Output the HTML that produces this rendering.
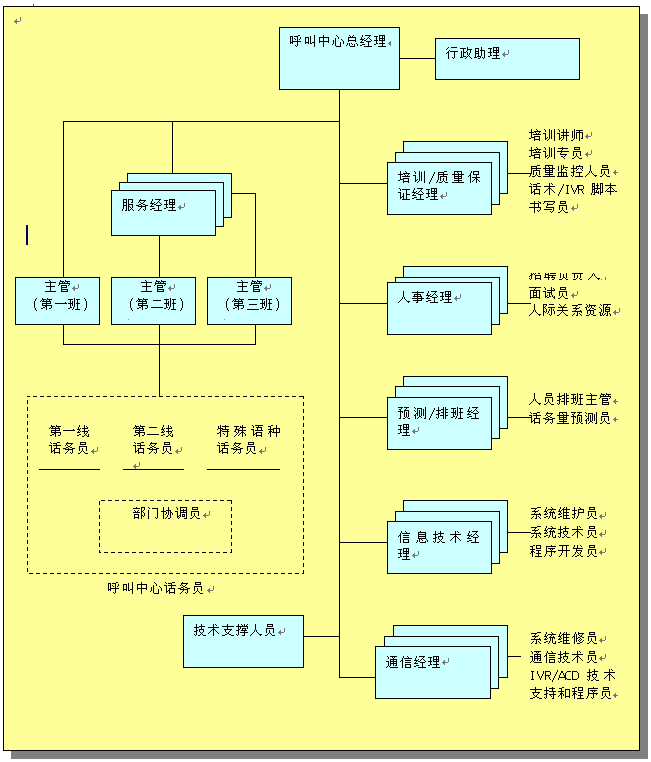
<!DOCTYPE html>
<html><head><meta charset="utf-8"><title>呼叫中心组织结构图</title>
<style>
html,body{margin:0;padding:0;background:#fff;width:651px;height:762px;overflow:hidden;font-family:"Liberation Sans",sans-serif;}
svg{position:absolute;left:0;top:0;}
#t span{position:absolute;font-size:13px;line-height:14px;color:transparent;white-space:nowrap;}
</style></head><body>
<div id="t"><span style="left:290px;top:33px">呼叫中心总经理</span><span style="left:446px;top:45px">行政助理</span><span style="left:122px;top:197px">服务经理</span><span style="left:44px;top:278px">主管</span><span style="left:33px;top:296px">（第一班）</span><span style="left:140px;top:278px">主管</span><span style="left:129px;top:296px">（第二班）</span><span style="left:236px;top:278px">主管</span><span style="left:225px;top:296px">（第三班）</span><span style="left:49px;top:423px">第一线</span><span style="left:49px;top:440px">话务员</span><span style="left:133px;top:423px">第二线</span><span style="left:133px;top:440px">话务员</span><span style="left:217px;top:423px">特殊语种</span><span style="left:217px;top:440px">话务员</span><span style="left:133px;top:505px">部门协调员</span><span style="left:108px;top:580px">呼叫中心话务员</span><span style="left:194px;top:622px">技术支撑人员</span><span style="left:398px;top:169px">培训/质量保</span><span style="left:398px;top:186px">证经理</span><span style="left:529px;top:127px">培训讲师</span><span style="left:529px;top:145px">培训专员</span><span style="left:529px;top:163px">质量监控人员</span><span style="left:529px;top:181px">话术/IVR 脚本</span><span style="left:529px;top:199px">书写员</span><span style="left:398px;top:289px">人事经理</span><span style="left:529px;top:266px">招聘负责人</span><span style="left:529px;top:285px">面试员</span><span style="left:529px;top:302px">人际关系资源</span><span style="left:398px;top:405px">预测/排班经</span><span style="left:398px;top:422px">理</span><span style="left:529px;top:391px">人员排班主管</span><span style="left:529px;top:410px">话务量预测员</span><span style="left:398px;top:529px">信息技术经</span><span style="left:398px;top:546px">理</span><span style="left:530px;top:505px">系统维护员</span><span style="left:530px;top:524px">系统技术员</span><span style="left:530px;top:543px">程序开发员</span><span style="left:386px;top:654px">通信经理</span><span style="left:530px;top:630px">系统维修员</span><span style="left:530px;top:649px">通信技术员</span><span style="left:530px;top:667px">IVR/ACD 技术</span><span style="left:530px;top:685px">支持和程序员</span></div>
<svg width="651" height="762" viewBox="0 0 651 762" shape-rendering="crispEdges"><defs><path id="g547c" d="M8 2h2v1h-2zM0 3h3v1h-3zM4 3h4v1h-4zM4 5h1v1h-1zM10 4h1v2h-1zM5 6h1v1h-1zM9 6h1v1h-1zM2 4h1v4h-1zM7 4h1v4h-1zM0 4h1v5h-1zM2 8h9v1h-9zM0 9h3v1h-3zM0 10h1v1h-1zM2 10h1v1h-1zM5 12h1v1h-1zM7 9h1v4h-1zM6 13h1v1h-1z"/><path id="g53eb" d="M1 4h4v1h-4zM1 5h1v4h-1zM4 5h1v4h-1zM10 2h1v7h-1zM1 9h4v1h-4zM6 3h1v7h-1zM8 9h3v1h-3zM1 10h1v1h-1zM4 10h1v1h-1zM6 10h2v1h-2zM10 10h1v4h-1z"/><path id="g4e2d" d="M5 2h1v2h-1zM1 4h10v1h-10zM1 5h1v3h-1zM5 5h1v3h-1zM10 5h1v3h-1zM1 8h10v1h-10zM1 9h1v1h-1zM10 9h1v1h-1zM5 9h1v5h-1z"/><path id="g5fc3" d="M4 2h1v1h-1zM5 3h1v1h-1zM6 4h1v2h-1zM9 6h1v1h-1zM10 7h1v1h-1zM1 7h1v4h-1zM11 8h1v3h-1zM0 11h1v1h-1zM3 5h1v8h-1zM8 9h1v4h-1zM4 13h5v1h-5z"/><path id="g603b" d="M3 2h1v1h-1zM7 2h1v1h-1zM4 3h1v1h-1zM6 3h1v1h-1zM2 4h8v1h-8zM2 5h1v2h-1zM9 5h1v2h-1zM2 7h8v1h-8zM2 8h1v1h-1zM9 8h1v1h-1zM5 10h1v1h-1zM10 10h1v1h-1zM1 10h1v2h-1zM6 11h1v1h-1zM0 12h1v1h-1zM3 10h1v3h-1zM8 11h1v2h-1zM11 11h1v2h-1zM4 13h5v1h-5z"/><path id="g7ecf" d="M5 2h6v1h-6zM2 2h1v2h-1zM9 3h1v1h-1zM8 4h1v1h-1zM1 4h1v2h-1zM4 5h1v1h-1zM7 5h1v1h-1zM9 5h1v1h-1zM0 6h4v1h-4zM6 6h1v1h-1zM10 6h1v1h-1zM2 7h1v1h-1zM4 7h2v1h-2zM11 7h1v1h-1zM1 8h1v1h-1zM6 8h5v1h-5zM0 9h4v1h-4zM2 11h3v1h-3zM0 12h2v1h-2zM8 9h1v4h-1zM4 13h8v1h-8z"/><path id="g7406" d="M5 2h6v1h-6zM0 3h4v1h-4zM5 3h1v2h-1zM8 3h1v2h-1zM10 3h1v2h-1zM5 5h6v1h-6zM2 4h1v3h-1zM5 6h1v1h-1zM8 6h1v1h-1zM10 6h1v1h-1zM0 7h4v1h-4zM5 7h6v1h-6zM2 8h1v2h-1zM8 8h1v2h-1zM2 10h2v1h-2zM5 10h6v1h-6zM0 11h2v1h-2zM8 11h1v2h-1zM4 13h8v1h-8z"/><path id="g884c" d="M2 2h1v1h-1zM5 2h6v1h-6zM1 3h1v1h-1zM0 4h1v1h-1zM3 5h1v1h-1zM2 6h1v1h-1zM4 6h8v1h-8zM1 7h2v1h-2zM0 8h1v1h-1zM6 12h1v1h-1zM8 7h1v6h-1zM2 8h1v6h-1zM7 13h1v1h-1z"/><path id="g653f" d="M0 3h6v1h-6zM7 2h1v2h-1zM7 4h5v1h-5zM7 5h1v1h-1zM3 4h1v3h-1zM6 6h1v1h-1zM3 7h3v1h-3zM10 5h1v3h-1zM7 7h1v3h-1zM9 8h1v2h-1zM3 8h1v3h-1zM8 10h1v1h-1zM1 6h1v6h-1zM3 11h3v1h-3zM7 11h1v1h-1zM9 11h1v1h-1zM0 12h3v1h-3zM6 12h1v1h-1zM10 12h1v1h-1zM5 13h1v1h-1zM11 13h1v1h-1z"/><path id="g52a9" d="M1 3h4v1h-4zM7 2h1v3h-1zM1 4h1v2h-1zM4 4h1v2h-1zM6 5h5v1h-5zM1 6h4v1h-4zM1 7h1v1h-1zM4 7h1v1h-1zM1 8h4v1h-4zM4 9h1v2h-1zM7 6h1v5h-1zM1 9h1v3h-1zM3 11h4v1h-4zM0 12h3v1h-3zM6 12h1v1h-1zM8 12h1v1h-1zM10 6h1v7h-1zM4 13h2v1h-2zM9 13h1v1h-1z"/><path id="g670d" d="M1 2h4v1h-4zM6 2h5v1h-5zM1 3h1v2h-1zM4 3h1v2h-1zM10 3h1v2h-1zM1 5h4v1h-4zM9 5h2v1h-2zM6 3h1v4h-1zM1 6h1v2h-1zM4 6h1v2h-1zM6 7h5v1h-5zM1 8h4v1h-4zM6 8h1v1h-1zM6 9h2v1h-2zM8 10h1v1h-1zM10 8h1v3h-1zM1 9h1v3h-1zM9 11h1v1h-1zM4 9h1v4h-1zM6 10h1v3h-1zM8 12h1v1h-1zM10 12h1v1h-1zM0 12h1v2h-1zM3 13h2v1h-2zM6 13h2v1h-2zM11 13h1v1h-1z"/><path id="g52a1" d="M4 2h1v1h-1zM3 3h7v1h-7zM3 4h1v1h-1zM8 4h1v1h-1zM2 5h1v1h-1zM4 5h1v1h-1zM7 5h1v1h-1zM5 6h2v1h-2zM3 7h2v1h-2zM7 7h2v1h-2zM0 8h3v1h-3zM5 8h1v1h-1zM9 8h3v1h-3zM2 9h8v1h-8zM5 10h1v1h-1zM4 11h1v1h-1zM3 12h1v1h-1zM7 12h1v1h-1zM9 10h1v3h-1zM2 13h1v1h-1zM8 13h1v1h-1z"/><path id="g4e3b" d="M5 2h1v1h-1zM6 3h1v1h-1zM1 4h11v1h-11zM6 5h1v3h-1zM2 8h9v1h-9zM6 9h1v4h-1zM1 13h11v1h-11z"/><path id="g7ba1" d="M2 2h1v1h-1zM7 2h1v1h-1zM2 3h4v1h-4zM7 3h5v1h-5zM1 4h1v1h-1zM4 4h1v1h-1zM6 4h1v1h-1zM9 4h1v1h-1zM1 5h11v1h-11zM1 6h1v1h-1zM11 6h1v1h-1zM0 7h1v1h-1zM3 7h6v1h-6zM10 7h1v1h-1zM3 8h1v1h-1zM8 8h1v1h-1zM3 9h6v1h-6zM3 10h1v1h-1zM3 11h7v1h-7zM3 12h1v1h-1zM9 12h1v1h-1zM3 13h7v1h-7z"/><path id="gff08" d="M10 2h1v1h-1zM9 3h1v2h-1zM8 5h1v7h-1zM9 12h1v2h-1zM10 14h1v1h-1z"/><path id="g7b2c" d="M2 2h1v1h-1zM7 2h1v1h-1zM2 3h4v1h-4zM7 3h5v1h-5zM1 4h1v1h-1zM3 4h1v1h-1zM6 4h1v1h-1zM9 4h1v1h-1zM0 5h1v1h-1zM2 5h9v1h-9zM6 6h1v1h-1zM10 6h1v1h-1zM2 7h9v1h-9zM2 8h1v1h-1zM6 8h1v1h-1zM2 9h10v1h-10zM5 10h2v1h-2zM3 11h2v1h-2zM11 10h1v2h-1zM1 12h2v1h-2zM9 12h2v1h-2zM6 11h1v3h-1z"/><path id="g4e00" d="M10 6h1v1h-1zM0 7h12v1h-12z"/><path id="g73ed" d="M0 3h5v1h-5zM8 3h4v1h-4zM2 4h1v3h-1zM4 5h1v2h-1zM9 4h1v3h-1zM0 7h5v1h-5zM8 7h4v1h-4zM4 8h1v2h-1zM2 8h1v3h-1zM6 2h1v9h-1zM2 11h2v1h-2zM0 12h2v1h-2zM5 11h1v2h-1zM9 8h1v5h-1zM4 13h1v1h-1zM7 13h5v1h-5z"/><path id="gff09" d="M3 2h1v1h-1zM4 3h1v2h-1zM5 5h1v7h-1zM4 12h1v2h-1zM3 14h1v1h-1z"/><path id="g4e8c" d="M2 4h8v1h-8zM0 11h12v1h-12z"/><path id="g4e09" d="M1 3h10v1h-10zM2 8h8v1h-8zM0 13h12v1h-12z"/><path id="g7ebf" d="M2 2h1v2h-1zM9 3h1v1h-1zM7 2h1v3h-1zM10 4h1v1h-1zM1 4h1v2h-1zM3 5h1v1h-1zM5 5h6v1h-6zM0 6h3v1h-3zM2 7h1v1h-1zM7 6h1v2h-1zM11 7h1v1h-1zM1 8h1v1h-1zM3 8h1v1h-1zM5 8h6v1h-6zM0 9h3v1h-3zM10 9h1v1h-1zM7 9h1v2h-1zM9 10h1v1h-1zM2 11h2v1h-2zM8 11h1v1h-1zM0 12h2v1h-2zM7 12h1v1h-1zM9 12h1v1h-1zM11 11h1v2h-1zM5 13h2v1h-2zM10 13h2v1h-2z"/><path id="g8bdd" d="M1 2h1v1h-1zM8 2h3v1h-3zM2 3h1v1h-1zM4 3h4v1h-4zM7 4h1v1h-1zM0 5h3v1h-3zM4 5h8v1h-8zM7 6h1v2h-1zM5 8h6v1h-6zM5 9h1v1h-1zM2 6h1v5h-1zM4 10h2v1h-2zM2 11h2v1h-2zM5 11h1v1h-1zM10 9h1v3h-1zM2 12h1v1h-1zM5 12h6v1h-6zM5 13h1v1h-1zM10 13h1v1h-1z"/><path id="g5458" d="M3 2h6v1h-6zM3 3h1v1h-1zM8 3h1v1h-1zM3 4h6v1h-6zM2 6h8v1h-8zM2 7h1v4h-1zM5 8h1v3h-1zM9 7h1v4h-1zM4 11h1v1h-1zM6 11h1v1h-1zM3 12h1v1h-1zM7 12h1v1h-1zM1 13h2v1h-2zM8 13h3v1h-3z"/><path id="g7279" d="M8 2h1v1h-1zM5 3h7v1h-7zM1 3h1v2h-1zM3 2h1v3h-1zM1 5h5v1h-5zM8 4h1v2h-1zM0 6h1v1h-1zM3 6h1v1h-1zM5 6h7v1h-7zM3 7h2v1h-2zM10 7h1v1h-1zM3 8h1v1h-1zM5 8h7v1h-7zM2 9h2v1h-2zM0 10h2v1h-2zM6 10h1v1h-1zM7 11h1v1h-1zM10 9h1v4h-1zM3 10h1v4h-1zM9 13h2v1h-2z"/><path id="g6b8a" d="M0 3h5v1h-5zM6 3h1v1h-1zM8 2h1v2h-1zM6 4h6v1h-6zM2 4h1v2h-1zM5 5h1v1h-1zM1 6h4v1h-4zM8 5h1v2h-1zM1 7h1v1h-1zM4 7h8v1h-8zM0 8h2v1h-2zM8 8h1v1h-1zM2 9h1v1h-1zM4 8h1v2h-1zM7 9h3v1h-3zM3 10h1v1h-1zM6 10h1v1h-1zM10 10h1v1h-1zM2 11h1v1h-1zM5 11h1v1h-1zM1 12h1v1h-1zM4 12h1v1h-1zM11 11h1v2h-1zM0 13h1v1h-1zM8 10h1v4h-1z"/><path id="g8bed" d="M1 2h1v1h-1zM4 2h8v1h-8zM7 3h1v1h-1zM2 3h1v2h-1zM5 4h6v1h-6zM0 6h3v1h-3zM6 5h1v2h-1zM10 5h1v2h-1zM4 7h8v1h-8zM5 9h6v1h-6zM2 7h1v4h-1zM4 10h2v1h-2zM2 11h2v1h-2zM5 11h1v1h-1zM10 10h1v2h-1zM2 12h1v1h-1zM5 12h6v1h-6zM5 13h1v1h-1zM10 13h1v1h-1z"/><path id="g79cd" d="M3 2h2v1h-2zM0 3h3v1h-3zM8 2h1v3h-1zM2 4h1v2h-1zM5 5h7v1h-7zM0 6h6v1h-6zM2 7h1v1h-1zM1 8h3v1h-3zM5 7h1v2h-1zM8 6h1v3h-1zM11 6h1v3h-1zM1 9h2v1h-2zM4 9h8v1h-8zM0 10h1v1h-1zM2 10h1v4h-1zM8 10h1v4h-1z"/><path id="g90e8" d="M3 2h1v1h-1zM8 2h4v1h-4zM0 3h7v1h-7zM11 3h1v2h-1zM1 5h1v1h-1zM5 5h1v1h-1zM8 3h1v3h-1zM10 5h1v1h-1zM2 6h1v1h-1zM4 6h1v1h-1zM8 6h2v1h-2zM0 7h7v1h-7zM10 7h1v1h-1zM1 9h5v1h-5zM8 7h1v3h-1zM8 10h2v1h-2zM11 8h1v3h-1zM1 10h1v2h-1zM5 10h1v2h-1zM10 11h1v1h-1zM1 12h5v1h-5zM1 13h1v1h-1zM5 13h1v1h-1zM8 11h1v3h-1z"/><path id="g95e8" d="M1 2h1v1h-1zM2 3h1v1h-1zM5 3h6v1h-6zM8 12h1v1h-1zM10 4h1v9h-1zM1 5h1v9h-1zM9 13h1v1h-1z"/><path id="g534f" d="M7 2h1v3h-1zM2 2h1v4h-1zM5 5h5v1h-5zM0 6h5v1h-5zM9 6h1v1h-1zM9 7h2v1h-2zM5 7h1v2h-1zM4 9h1v1h-1zM7 6h1v4h-1zM11 8h1v2h-1zM6 10h1v2h-1zM5 12h1v1h-1zM9 8h1v5h-1zM2 7h1v7h-1zM4 13h1v1h-1zM7 13h2v1h-2z"/><path id="g8c03" d="M1 2h1v1h-1zM5 2h7v1h-7zM2 3h1v2h-1zM5 3h1v2h-1zM8 4h1v1h-1zM11 3h1v2h-1zM5 5h7v1h-7zM0 6h3v1h-3zM5 6h1v1h-1zM8 6h1v1h-1zM11 6h1v1h-1zM5 7h7v1h-7zM5 8h1v2h-1zM7 9h3v1h-3zM2 7h1v4h-1zM4 10h2v1h-2zM7 10h1v1h-1zM9 10h1v1h-1zM2 11h2v1h-2zM5 11h1v1h-1zM7 11h3v1h-3zM2 12h1v1h-1zM4 12h1v1h-1zM11 8h1v5h-1zM3 13h1v1h-1zM9 13h3v1h-3z"/><path id="g6280" d="M7 2h1v2h-1zM2 2h1v3h-1zM5 4h6v1h-6zM0 5h5v1h-5zM7 5h1v2h-1zM2 6h1v2h-1zM5 7h5v1h-5zM2 8h2v1h-2zM0 9h3v1h-3zM5 8h1v2h-1zM9 8h1v2h-1zM6 10h1v1h-1zM8 10h1v1h-1zM7 11h1v1h-1zM0 12h1v1h-1zM2 10h1v3h-1zM6 12h1v1h-1zM8 12h1v1h-1zM1 13h1v1h-1zM4 13h2v1h-2zM9 13h3v1h-3z"/><path id="g672f" d="M7 2h1v1h-1zM8 3h1v1h-1zM5 2h1v3h-1zM0 5h11v1h-11zM5 6h1v1h-1zM4 7h3v1h-3zM3 8h1v1h-1zM7 8h1v1h-1zM2 9h1v1h-1zM8 9h1v1h-1zM1 10h1v1h-1zM9 10h1v1h-1zM0 11h1v1h-1zM10 11h1v1h-1zM5 8h1v6h-1z"/><path id="g652f" d="M5 2h1v2h-1zM0 4h12v1h-12zM5 5h1v2h-1zM2 7h8v1h-8zM8 8h1v1h-1zM3 8h1v2h-1zM7 9h1v1h-1zM4 10h1v1h-1zM6 10h1v1h-1zM5 11h2v1h-2zM3 12h2v1h-2zM7 12h2v1h-2zM0 13h3v1h-3zM9 13h3v1h-3z"/><path id="g6491" d="M5 2h1v1h-1zM11 2h1v1h-1zM2 2h1v2h-1zM6 3h1v1h-1zM8 2h1v2h-1zM10 3h1v1h-1zM0 4h12v1h-12zM2 5h1v2h-1zM4 5h1v2h-1zM6 6h4v1h-4zM11 5h1v2h-1zM2 7h2v1h-2zM6 7h1v1h-1zM9 7h1v1h-1zM0 8h3v1h-3zM5 8h6v1h-6zM8 9h1v1h-1zM4 10h8v1h-8zM0 12h1v1h-1zM2 9h1v4h-1zM8 11h1v2h-1zM1 13h1v1h-1zM6 13h3v1h-3z"/><path id="g4eba" d="M5 2h1v6h-1zM4 8h1v2h-1zM6 8h1v2h-1zM3 10h1v1h-1zM7 10h1v1h-1zM2 11h1v1h-1zM8 11h1v1h-1zM1 12h1v1h-1zM9 12h3v1h-3zM0 13h1v1h-1zM10 13h1v1h-1z"/><path id="g57f9" d="M7 2h1v1h-1zM8 3h1v1h-1zM2 2h1v3h-1zM5 4h7v1h-7zM0 5h5v1h-5zM6 5h1v1h-1zM10 5h1v1h-1zM7 6h1v1h-1zM9 6h1v1h-1zM4 7h8v1h-8zM2 6h1v4h-1zM5 9h6v1h-6zM2 10h4v1h-4zM0 11h2v1h-2zM5 11h1v1h-1zM10 10h1v2h-1zM5 12h6v1h-6zM5 13h1v1h-1zM10 13h1v1h-1z"/><path id="g8bad" d="M1 2h1v1h-1zM2 3h1v2h-1zM0 6h3v1h-3zM2 7h1v4h-1zM4 10h1v1h-1zM2 11h2v1h-2zM6 2h1v10h-1zM8 3h1v9h-1zM2 12h1v1h-1zM5 12h1v1h-1zM4 13h1v1h-1zM11 2h1v12h-1z"/><path id="g2f" d="M5 3h1v2h-1zM4 5h1v2h-1zM3 7h1v2h-1zM2 9h1v2h-1zM1 11h1v2h-1zM0 13h1v2h-1z"/><path id="g8d28" d="M8 2h3v1h-3zM2 3h6v1h-6zM2 4h1v1h-1zM7 4h1v1h-1zM2 5h10v1h-10zM7 6h1v1h-1zM4 7h7v1h-7zM2 6h1v5h-1zM4 8h1v4h-1zM7 9h1v3h-1zM10 8h1v4h-1zM1 11h1v2h-1zM6 12h1v1h-1zM8 12h1v1h-1zM0 13h1v1h-1zM3 13h3v1h-3zM9 13h3v1h-3z"/><path id="g91cf" d="M2 2h8v1h-8zM5 3h1v1h-1zM2 3h1v2h-1zM6 4h1v1h-1zM9 3h1v2h-1zM0 5h12v1h-12zM2 6h1v1h-1zM6 6h1v1h-1zM9 6h1v1h-1zM2 7h8v1h-8zM2 8h1v1h-1zM6 8h1v1h-1zM9 8h1v1h-1zM2 9h8v1h-8zM6 10h1v1h-1zM2 11h8v1h-8zM6 12h1v1h-1zM0 13h12v1h-12z"/><path id="g4fdd" d="M5 2h6v1h-6zM3 2h1v2h-1zM5 3h1v2h-1zM10 3h1v2h-1zM2 4h1v2h-1zM5 5h6v1h-6zM1 6h2v1h-2zM0 7h1v1h-1zM8 6h1v2h-1zM4 8h8v1h-8zM7 9h2v1h-2zM6 10h1v1h-1zM8 10h2v1h-2zM5 11h1v1h-1zM10 11h1v1h-1zM4 12h1v1h-1zM11 12h1v1h-1zM2 7h1v7h-1zM8 11h1v3h-1z"/><path id="g8bc1" d="M1 2h1v1h-1zM4 3h8v1h-8zM2 3h1v2h-1zM0 6h3v1h-3zM8 4h1v4h-1zM8 8h4v1h-4zM5 7h1v3h-1zM2 7h1v4h-1zM4 10h2v1h-2zM2 11h2v1h-2zM2 12h1v1h-1zM5 11h1v2h-1zM8 9h1v4h-1zM4 13h8v1h-8z"/><path id="g8bb2" d="M1 2h1v1h-1zM2 3h1v2h-1zM6 2h1v3h-1zM9 2h1v3h-1zM4 5h8v1h-8zM0 6h3v1h-3zM6 6h1v2h-1zM9 6h1v2h-1zM4 8h8v1h-8zM2 7h1v4h-1zM4 10h1v1h-1zM2 11h2v1h-2zM6 9h1v3h-1zM2 12h1v1h-1zM5 12h1v1h-1zM4 13h1v1h-1zM9 9h1v5h-1z"/><path id="g5e08" d="M5 3h7v1h-7zM8 4h1v1h-1zM5 5h7v1h-7zM1 4h1v7h-1zM11 6h1v5h-1zM3 2h1v10h-1zM5 6h1v6h-1zM10 11h2v1h-2zM2 12h1v1h-1zM0 13h2v1h-2zM8 6h1v8h-1z"/><path id="g4e13" d="M5 2h1v1h-1zM1 3h10v1h-10zM5 4h1v1h-1zM4 5h1v1h-1zM0 6h12v1h-12zM4 7h1v1h-1zM3 8h1v1h-1zM3 9h7v1h-7zM8 10h1v1h-1zM4 11h2v1h-2zM7 11h1v1h-1zM6 12h1v1h-1zM7 13h1v1h-1z"/><path id="g76d1" d="M6 2h1v2h-1zM6 4h5v1h-5zM4 2h1v4h-1zM6 5h1v1h-1zM4 6h2v1h-2zM8 6h1v1h-1zM1 3h1v5h-1zM9 7h1v1h-1zM4 7h1v2h-1zM1 9h9v1h-9zM1 10h1v3h-1zM4 10h1v3h-1zM6 10h1v3h-1zM9 10h1v3h-1zM0 13h11v1h-11z"/><path id="g63a7" d="M8 2h1v1h-1zM5 3h7v1h-7zM2 2h1v3h-1zM5 4h1v1h-1zM0 5h6v1h-6zM7 5h1v1h-1zM9 5h1v1h-1zM11 4h1v2h-1zM6 6h1v1h-1zM10 6h1v1h-1zM2 6h1v2h-1zM5 7h1v1h-1zM11 7h1v1h-1zM2 8h2v1h-2zM0 9h3v1h-3zM5 9h6v1h-6zM0 12h1v1h-1zM2 10h1v3h-1zM8 10h1v3h-1zM1 13h1v1h-1zM4 13h8v1h-8z"/><path id="g49" d="M0 4h3v1h-3zM1 5h1v7h-1zM0 12h3v1h-3z"/><path id="g56" d="M0 4h1v3h-1zM6 4h1v3h-1zM1 7h1v2h-1zM5 7h1v2h-1zM2 9h1v2h-1zM4 9h1v2h-1zM3 11h1v2h-1z"/><path id="g52" d="M0 4h5v1h-5zM0 5h1v3h-1zM5 5h1v3h-1zM0 8h5v1h-5zM3 9h1v1h-1zM4 10h1v2h-1zM0 9h1v4h-1zM5 12h1v1h-1z"/><path id="g811a" d="M1 2h3v1h-3zM9 2h3v1h-3zM6 2h1v2h-1zM1 3h1v2h-1zM3 3h1v2h-1zM5 4h3v1h-3zM1 5h3v1h-3zM3 6h1v1h-1zM6 5h1v2h-1zM9 3h1v4h-1zM1 6h1v2h-1zM3 7h7v1h-7zM1 8h3v1h-3zM6 8h1v1h-1zM3 9h1v2h-1zM5 9h1v2h-1zM7 10h1v1h-1zM9 8h1v3h-1zM11 3h1v8h-1zM1 9h1v3h-1zM3 11h5v1h-5zM9 11h3v1h-3zM3 12h1v1h-1zM7 12h1v1h-1zM0 12h1v2h-1zM2 13h2v1h-2zM9 12h1v2h-1z"/><path id="g672c" d="M5 2h1v2h-1zM0 4h11v1h-11zM5 5h1v1h-1zM4 6h3v1h-3zM3 7h1v1h-1zM7 7h1v1h-1zM2 8h1v1h-1zM8 8h1v1h-1zM1 9h1v1h-1zM5 7h1v3h-1zM9 9h1v1h-1zM0 10h1v1h-1zM2 10h7v1h-7zM10 10h2v1h-2zM5 11h1v3h-1z"/><path id="g4e66" d="M9 2h1v1h-1zM5 2h1v2h-1zM10 3h2v1h-2zM1 4h9v1h-9zM11 4h1v1h-1zM5 5h1v3h-1zM9 5h1v3h-1zM0 8h12v1h-12zM11 9h1v2h-1zM8 11h1v1h-1zM10 11h1v1h-1zM9 12h1v1h-1zM5 9h1v5h-1z"/><path id="g5199" d="M1 2h11v1h-11zM1 3h1v1h-1zM11 3h1v1h-1zM0 4h1v1h-1zM4 4h1v1h-1zM10 4h1v1h-1zM4 5h6v1h-6zM4 6h1v1h-1zM3 7h1v1h-1zM3 8h8v1h-8zM1 10h8v1h-8zM10 9h1v3h-1zM7 12h1v1h-1zM9 12h1v1h-1zM8 13h1v1h-1z"/><path id="g4e8b" d="M5 2h1v1h-1zM0 3h12v1h-12zM5 4h1v1h-1zM2 5h7v1h-7zM2 6h1v1h-1zM5 6h1v1h-1zM8 6h1v1h-1zM1 7h9v1h-9zM5 8h1v1h-1zM9 8h1v1h-1zM0 9h12v1h-12zM5 10h1v1h-1zM9 10h1v1h-1zM1 11h9v1h-9zM5 12h1v1h-1zM4 13h2v1h-2z"/><path id="g62db" d="M5 3h7v1h-7zM2 2h1v3h-1zM0 5h5v1h-5zM8 4h1v2h-1zM7 6h1v1h-1zM11 4h1v3h-1zM2 6h1v2h-1zM4 7h1v1h-1zM6 7h1v1h-1zM9 7h2v1h-2zM2 8h2v1h-2zM5 8h1v1h-1zM1 9h2v1h-2zM6 9h6v1h-6zM0 10h1v1h-1zM6 10h1v2h-1zM11 10h1v2h-1zM0 12h1v1h-1zM2 10h1v3h-1zM6 12h6v1h-6zM1 13h1v1h-1zM6 13h1v1h-1zM11 13h1v1h-1z"/><path id="g8058" d="M0 2h6v1h-6zM8 2h1v1h-1zM6 3h6v1h-6zM1 3h1v2h-1zM4 3h1v2h-1zM6 4h1v1h-1zM8 4h1v1h-1zM11 4h1v1h-1zM1 5h4v1h-4zM6 5h6v1h-6zM6 6h1v1h-1zM8 6h1v1h-1zM11 6h1v1h-1zM1 6h1v2h-1zM4 6h1v2h-1zM6 7h6v1h-6zM1 8h4v1h-4zM4 9h8v1h-8zM1 9h1v2h-1zM4 10h1v1h-1zM8 10h1v1h-1zM0 11h6v1h-6zM7 11h4v1h-4zM10 12h1v1h-1zM4 12h1v2h-1zM8 13h2v1h-2z"/><path id="g8d1f" d="M4 2h1v1h-1zM4 3h5v1h-5zM3 4h1v1h-1zM7 4h1v1h-1zM2 5h1v1h-1zM6 5h1v1h-1zM1 6h1v1h-1zM3 6h7v1h-7zM6 8h1v3h-1zM3 7h1v5h-1zM6 11h2v1h-2zM9 7h1v5h-1zM5 12h1v1h-1zM8 12h1v1h-1zM2 13h3v1h-3zM9 13h2v1h-2z"/><path id="g8d23" d="M5 2h1v1h-1zM0 3h11v1h-11zM5 4h1v1h-1zM1 5h9v1h-9zM5 6h1v1h-1zM0 7h11v1h-11zM2 8h1v4h-1zM5 9h1v3h-1zM8 8h1v4h-1zM4 12h1v1h-1zM7 12h1v1h-1zM1 13h3v1h-3zM8 13h2v1h-2z"/><path id="g9762" d="M0 2h12v1h-12zM6 3h1v1h-1zM5 4h1v1h-1zM1 5h10v1h-10zM4 6h1v1h-1zM7 6h1v1h-1zM4 7h4v1h-4zM4 8h1v2h-1zM7 8h1v2h-1zM4 10h4v1h-4zM1 6h1v6h-1zM4 11h1v1h-1zM7 11h1v1h-1zM10 6h1v6h-1zM1 12h10v1h-10zM1 13h1v1h-1zM10 13h1v1h-1z"/><path id="g8bd5" d="M1 2h1v1h-1zM10 3h1v1h-1zM2 3h1v2h-1zM8 2h1v3h-1zM11 4h1v1h-1zM4 5h8v1h-8zM0 6h3v1h-3zM8 6h1v1h-1zM4 7h5v1h-5zM8 8h1v2h-1zM2 7h1v4h-1zM4 10h1v1h-1zM6 8h1v3h-1zM2 11h2v1h-2zM6 11h2v1h-2zM9 10h1v2h-1zM11 11h1v1h-1zM2 12h1v1h-1zM4 12h2v1h-2zM10 12h2v1h-2zM11 13h1v1h-1z"/><path id="g9645" d="M0 2h4v1h-4zM6 2h5v1h-5zM3 3h1v1h-1zM0 3h1v2h-1zM2 4h1v1h-1zM0 5h2v1h-2zM5 5h7v1h-7zM2 6h1v1h-1zM0 6h1v3h-1zM6 7h1v2h-1zM10 7h1v2h-1zM0 9h2v1h-2zM3 7h1v3h-1zM2 10h1v1h-1zM5 9h1v2h-1zM4 11h1v1h-1zM11 9h1v3h-1zM6 12h1v1h-1zM8 6h1v7h-1zM0 10h1v4h-1zM7 13h1v1h-1z"/><path id="g5173" d="M2 2h1v1h-1zM8 2h1v1h-1zM3 3h1v1h-1zM7 3h1v1h-1zM4 4h1v1h-1zM6 4h1v1h-1zM1 5h9v1h-9zM5 6h1v2h-1zM0 8h11v1h-11zM5 9h1v1h-1zM4 10h1v1h-1zM6 10h1v1h-1zM3 11h1v1h-1zM7 11h1v1h-1zM2 12h1v1h-1zM8 12h1v1h-1zM0 13h2v1h-2zM9 13h2v1h-2z"/><path id="g7cfb" d="M7 2h4v1h-4zM1 3h6v1h-6zM5 4h1v1h-1zM4 5h1v1h-1zM8 5h1v1h-1zM2 6h6v1h-6zM5 7h1v1h-1zM4 8h1v1h-1zM9 8h1v1h-1zM1 9h10v1h-10zM10 10h1v1h-1zM3 11h1v1h-1zM8 11h1v1h-1zM2 12h1v1h-1zM6 10h1v3h-1zM9 12h1v1h-1zM1 13h1v1h-1zM5 13h2v1h-2zM10 13h1v1h-1z"/><path id="g8d44" d="M1 2h1v1h-1zM4 2h1v1h-1zM4 3h7v1h-7zM2 3h1v2h-1zM4 4h1v1h-1zM9 4h1v1h-1zM0 5h2v1h-2zM3 5h1v1h-1zM6 4h1v2h-1zM5 6h1v1h-1zM7 6h2v1h-2zM1 6h1v2h-1zM4 7h1v1h-1zM9 7h2v1h-2zM2 8h7v1h-7zM2 9h1v3h-1zM5 9h1v3h-1zM8 9h1v3h-1zM4 12h1v1h-1zM6 12h2v1h-2zM1 13h3v1h-3zM8 13h3v1h-3z"/><path id="g6e90" d="M1 2h1v1h-1zM4 2h8v1h-8zM2 3h1v1h-1zM8 3h1v1h-1zM7 4h1v1h-1zM0 5h1v1h-1zM6 5h5v1h-5zM1 6h1v1h-1zM6 6h1v1h-1zM10 6h1v1h-1zM6 7h5v1h-5zM6 8h1v1h-1zM10 8h1v1h-1zM2 7h1v3h-1zM6 9h5v1h-5zM0 10h2v1h-2zM4 3h1v8h-1zM6 11h1v1h-1zM10 11h1v1h-1zM1 11h1v2h-1zM3 11h1v2h-1zM5 12h1v1h-1zM8 10h1v3h-1zM1 13h2v1h-2zM4 13h1v1h-1zM7 13h2v1h-2zM11 12h1v2h-1z"/><path id="g9884" d="M0 2h5v1h-5zM6 2h5v1h-5zM3 3h1v1h-1zM8 3h1v1h-1zM1 4h2v1h-2zM7 4h1v1h-1zM2 5h1v1h-1zM6 5h5v1h-5zM0 6h5v1h-5zM4 7h1v1h-1zM6 6h1v6h-1zM8 7h1v5h-1zM10 6h1v6h-1zM2 7h1v6h-1zM7 12h1v1h-1zM9 12h1v1h-1zM1 13h2v1h-2zM5 13h2v1h-2zM10 13h2v1h-2z"/><path id="g6d4b" d="M0 2h1v1h-1zM1 3h1v1h-1zM3 3h5v1h-5zM0 5h1v1h-1zM1 6h1v1h-1zM3 4h1v4h-1zM2 8h2v1h-2zM1 9h1v1h-1zM0 10h2v1h-2zM3 9h1v2h-1zM5 5h1v6h-1zM7 4h1v7h-1zM9 4h1v7h-1zM5 11h2v1h-2zM4 12h1v1h-1zM7 12h1v1h-1zM11 2h1v11h-1zM1 11h1v3h-1zM3 13h1v1h-1zM10 13h2v1h-2z"/><path id="g6392" d="M7 2h1v2h-1zM9 2h1v2h-1zM2 2h1v3h-1zM5 4h3v1h-3zM9 4h3v1h-3zM0 5h5v1h-5zM7 5h1v2h-1zM9 5h1v2h-1zM2 6h1v2h-1zM5 7h3v1h-3zM9 7h3v1h-3zM2 8h2v1h-2zM0 9h3v1h-3zM7 8h1v2h-1zM9 8h1v2h-1zM4 10h4v1h-4zM9 10h3v1h-3zM0 12h1v1h-1zM2 10h1v3h-1zM1 13h1v1h-1zM7 11h1v3h-1zM9 11h1v3h-1z"/><path id="g4fe1" d="M7 2h1v1h-1zM3 2h1v2h-1zM8 3h1v1h-1zM4 4h8v1h-8zM2 4h1v2h-1zM1 6h2v1h-2zM5 6h6v1h-6zM0 7h1v1h-1zM5 8h6v1h-6zM5 10h6v1h-6zM5 11h1v2h-1zM10 11h1v2h-1zM2 7h1v7h-1zM5 13h6v1h-6z"/><path id="g606f" d="M4 2h1v1h-1zM2 3h8v1h-8zM2 4h1v1h-1zM9 4h1v1h-1zM2 5h8v1h-8zM2 6h1v1h-1zM9 6h1v1h-1zM2 7h8v1h-8zM2 8h1v1h-1zM9 8h1v1h-1zM2 9h8v1h-8zM5 10h1v1h-1zM10 10h1v1h-1zM6 11h1v1h-1zM1 11h1v2h-1zM3 10h1v3h-1zM9 12h1v1h-1zM11 11h1v2h-1zM0 13h1v1h-1zM4 13h6v1h-6z"/><path id="g7edf" d="M7 2h1v1h-1zM2 2h1v2h-1zM8 3h1v1h-1zM4 4h8v1h-8zM1 4h1v2h-1zM3 5h1v1h-1zM7 5h1v1h-1zM0 6h3v1h-3zM6 6h1v1h-1zM9 6h1v1h-1zM2 7h1v1h-1zM5 7h6v1h-6zM1 8h1v1h-1zM3 8h1v1h-1zM10 8h1v1h-1zM0 9h3v1h-3zM6 8h1v3h-1zM2 11h2v1h-2zM0 12h2v1h-2zM5 11h1v2h-1zM8 8h1v5h-1zM11 11h1v2h-1zM4 13h1v1h-1zM9 13h3v1h-3z"/><path id="g7ef4" d="M6 2h1v1h-1zM2 2h1v2h-1zM5 3h1v1h-1zM8 2h1v2h-1zM4 4h8v1h-8zM1 4h1v2h-1zM3 5h1v1h-1zM0 6h3v1h-3zM5 5h1v2h-1zM8 5h1v2h-1zM2 7h1v1h-1zM5 7h6v1h-6zM1 8h1v1h-1zM3 8h1v1h-1zM0 9h3v1h-3zM5 8h1v2h-1zM8 8h1v2h-1zM5 10h6v1h-6zM2 11h2v1h-2zM0 12h2v1h-2zM5 11h1v2h-1zM8 11h1v2h-1zM5 13h7v1h-7z"/><path id="g62a4" d="M7 2h1v1h-1zM8 3h1v1h-1zM2 2h1v3h-1zM6 4h6v1h-6zM0 5h5v1h-5zM6 5h1v2h-1zM11 5h1v2h-1zM2 6h1v2h-1zM6 7h6v1h-6zM2 8h2v1h-2zM0 9h3v1h-3zM6 8h1v3h-1zM0 12h1v1h-1zM2 10h1v3h-1zM5 11h1v2h-1zM1 13h1v1h-1zM4 13h1v1h-1z"/><path id="g7a0b" d="M3 2h2v1h-2zM6 2h5v1h-5zM0 3h3v1h-3zM6 3h1v2h-1zM10 3h1v2h-1zM2 4h1v2h-1zM6 5h5v1h-5zM0 6h5v1h-5zM2 7h1v1h-1zM6 7h5v1h-5zM1 8h3v1h-3zM1 9h2v1h-2zM4 9h1v1h-1zM8 8h1v2h-1zM0 10h1v1h-1zM6 10h5v1h-5zM8 11h1v2h-1zM2 10h1v4h-1zM5 13h7v1h-7z"/><path id="g5e8f" d="M7 2h1v1h-1zM2 3h10v1h-10zM4 5h7v1h-7zM6 6h1v1h-1zM8 6h1v1h-1zM2 4h1v4h-1zM7 7h1v1h-1zM2 8h10v1h-10zM10 9h1v1h-1zM2 9h1v2h-1zM1 11h1v2h-1zM5 12h1v1h-1zM7 9h1v4h-1zM0 13h1v1h-1zM6 13h1v1h-1z"/><path id="g5f00" d="M1 2h10v1h-10zM4 3h1v4h-1zM8 3h1v4h-1zM0 7h12v1h-12zM4 8h1v2h-1zM3 10h1v2h-1zM2 12h1v1h-1zM1 13h1v1h-1zM8 8h1v6h-1z"/><path id="g53d1" d="M8 2h1v1h-1zM2 2h1v2h-1zM9 3h1v1h-1zM1 4h1v1h-1zM5 2h1v3h-1zM1 5h10v1h-10zM4 6h1v1h-1zM4 7h6v1h-6zM4 8h1v1h-1zM9 8h1v1h-1zM5 9h1v1h-1zM3 9h1v2h-1zM6 10h1v1h-1zM8 9h1v2h-1zM2 11h1v1h-1zM7 11h1v1h-1zM1 12h1v1h-1zM5 12h2v1h-2zM8 12h1v1h-1zM0 13h1v1h-1zM3 13h2v1h-2zM9 13h2v1h-2z"/><path id="g901a" d="M1 2h1v1h-1zM4 2h7v1h-7zM6 3h1v1h-1zM8 3h1v1h-1zM2 3h1v2h-1zM7 4h1v1h-1zM4 5h7v1h-7zM4 6h1v1h-1zM7 6h1v1h-1zM10 6h1v1h-1zM0 7h3v1h-3zM4 7h7v1h-7zM4 8h1v1h-1zM7 8h1v1h-1zM10 8h1v1h-1zM4 9h7v1h-7zM10 10h1v1h-1zM2 8h1v4h-1zM4 10h1v2h-1zM7 10h1v2h-1zM9 11h2v1h-2zM1 12h1v1h-1zM3 12h1v1h-1zM0 13h1v1h-1zM4 13h8v1h-8z"/><path id="g4fee" d="M6 2h1v1h-1zM3 2h1v2h-1zM6 3h6v1h-6zM6 4h1v1h-1zM10 4h1v1h-1zM2 4h1v2h-1zM7 5h1v1h-1zM9 5h1v1h-1zM1 6h2v1h-2zM8 6h2v1h-2zM0 7h1v1h-1zM4 4h1v4h-1zM6 7h2v1h-2zM10 7h2v1h-2zM4 8h2v1h-2zM8 8h1v1h-1zM7 9h1v1h-1zM9 9h1v1h-1zM6 10h1v1h-1zM8 10h1v1h-1zM11 10h1v1h-1zM4 9h1v3h-1zM7 11h1v1h-1zM10 11h1v1h-1zM8 12h2v1h-2zM2 7h1v7h-1zM5 13h3v1h-3z"/><path id="g41" d="M3 4h2v2h-2zM2 6h1v2h-1zM5 6h1v2h-1zM1 8h1v2h-1zM6 8h1v2h-1zM1 10h6v1h-6zM0 11h1v2h-1zM7 11h1v2h-1z"/><path id="g43" d="M2 4h4v1h-4zM1 5h1v1h-1zM0 6h1v5h-1zM1 11h1v1h-1zM2 12h4v1h-4z"/><path id="g44" d="M0 4h5v1h-5zM5 5h1v1h-1zM6 6h1v5h-1zM0 5h1v7h-1zM5 11h1v1h-1zM0 12h5v1h-5z"/><path id="g6301" d="M8 2h1v1h-1zM5 3h6v1h-6zM2 2h1v3h-1zM0 5h5v1h-5zM8 4h1v2h-1zM5 6h7v1h-7zM2 6h1v2h-1zM2 8h2v1h-2zM9 7h1v2h-1zM0 9h3v1h-3zM5 9h7v1h-7zM6 10h1v1h-1zM7 11h1v1h-1zM0 12h1v1h-1zM2 10h1v3h-1zM9 10h1v3h-1zM1 13h1v1h-1zM8 13h2v1h-2z"/><path id="g548c" d="M4 2h2v1h-2zM1 3h3v1h-3zM7 4h5v1h-5zM3 4h1v2h-1zM0 6h6v1h-6zM3 7h1v1h-1zM2 8h3v1h-3zM2 9h2v1h-2zM1 10h1v1h-1zM5 9h1v2h-1zM7 5h1v6h-1zM11 5h1v6h-1zM0 11h1v1h-1zM7 11h5v1h-5zM7 12h1v1h-1zM11 12h1v1h-1zM3 10h1v4h-1z"/><path id="ret" fill="#76767e" d="M6 0h1v1h-1zM6 1h1v1h-1zM2 2h1v1h-1zM6 2h1v1h-1zM1 3h2v1h-2zM6 3h1v1h-1zM0 4h6v1h-6zM1 5h2v1h-2zM2 6h1v1h-1z"/><clipPath id="clipHR2"><rect x="590" y="277" width="30" height="3"/></clipPath><clipPath id="clipHR"><rect x="520" y="273" width="110" height="40"/></clipPath></defs><rect x="11" y="14" width="637" height="745" fill="#808080"/>
<rect x="3" y="6" width="637" height="745" fill="#000"/>
<rect x="4" y="7" width="635" height="743" fill="#FFFF99"/>
<rect x="33" y="4" width="1" height="2" fill="#555"/>
<use href="#ret" x="14" y="17"/>
<rect x="26" y="225" width="2" height="20" fill="#000060"/>
<rect x="279" y="27" width="121" height="63" fill="#000"/>
<rect x="280" y="28" width="119" height="61" fill="#CCFFFF"/>
<use href="#g547c" x="290" y="33"/><use href="#g53eb" x="304" y="33"/><use href="#g4e2d" x="318" y="33"/><use href="#g5fc3" x="332" y="33"/><use href="#g603b" x="346" y="33"/><use href="#g7ecf" x="360" y="33"/><use href="#g7406" x="374" y="33"/>
<path transform="translate(388 39)" fill="#76767e" d="M2 2h1v1h-1zM1 3h2v1h-2zM0 4h3v1h-3zM1 5h2v1h-2zM2 6h1v1h-1z"/>
<rect x="399" y="58" width="37" height="1" fill="#000"/>
<rect x="435" y="38" width="145" height="42" fill="#000"/>
<rect x="436" y="39" width="143" height="40" fill="#CCFFFF"/>
<use href="#g884c" x="446" y="45"/><use href="#g653f" x="460" y="45"/><use href="#g52a9" x="474" y="45"/><use href="#g7406" x="488" y="45"/>
<use href="#ret" x="502" y="50"/>
<rect x="339" y="89" width="1" height="589" fill="#000"/>
<rect x="63" y="121" width="277" height="1" fill="#000"/>
<rect x="172" y="121" width="1" height="53" fill="#000"/>
<rect x="63" y="121" width="1" height="157" fill="#000"/>
<rect x="127" y="173" width="105" height="45" fill="#000"/>
<rect x="128" y="174" width="103" height="43" fill="#CCFFFF"/>
<rect x="119" y="182" width="105" height="45" fill="#000"/>
<rect x="120" y="183" width="103" height="43" fill="#CCFFFF"/>
<rect x="111" y="190" width="105" height="46" fill="#000"/>
<rect x="112" y="191" width="103" height="44" fill="#CCFFFF"/>
<use href="#g670d" x="122" y="197"/><use href="#g52a1" x="136" y="197"/><use href="#g7ecf" x="150" y="197"/><use href="#g7406" x="164" y="197"/>
<use href="#ret" x="178" y="203"/>
<rect x="231" y="193" width="25" height="1" fill="#000"/>
<rect x="255" y="193" width="1" height="85" fill="#000"/>
<rect x="159" y="235" width="1" height="43" fill="#000"/>
<rect x="15" y="277" width="85" height="48" fill="#000"/>
<rect x="16" y="278" width="83" height="46" fill="#CCFFFF"/>
<use href="#g4e3b" x="44" y="278"/><use href="#g7ba1" x="58" y="278"/>
<use href="#ret" x="72" y="284"/>
<use href="#gff08" x="26" y="296"/><use href="#g7b2c" x="40" y="296"/><use href="#g4e00" x="55" y="296"/><use href="#g73ed" x="68" y="296"/><use href="#gff09" x="81" y="296"/>
<rect x="111" y="277" width="85" height="48" fill="#000"/>
<rect x="112" y="278" width="83" height="46" fill="#CCFFFF"/>
<use href="#g4e3b" x="140" y="278"/><use href="#g7ba1" x="154" y="278"/>
<use href="#ret" x="168" y="284"/>
<use href="#gff08" x="122" y="296"/><use href="#g7b2c" x="136" y="296"/><use href="#g4e8c" x="151" y="296"/><use href="#g73ed" x="164" y="296"/><use href="#gff09" x="177" y="296"/>
<rect x="207" y="277" width="85" height="48" fill="#000"/>
<rect x="208" y="278" width="83" height="46" fill="#CCFFFF"/>
<use href="#g4e3b" x="236" y="278"/><use href="#g7ba1" x="250" y="278"/>
<use href="#ret" x="264" y="284"/>
<use href="#gff08" x="218" y="296"/><use href="#g7b2c" x="232" y="296"/><use href="#g4e09" x="247" y="296"/><use href="#g73ed" x="260" y="296"/><use href="#gff09" x="273" y="296"/>
<rect x="63" y="344" width="193" height="1" fill="#000"/>
<rect x="63" y="324" width="1" height="21" fill="#000"/>
<rect x="159" y="324" width="1" height="73" fill="#000"/>
<rect x="255" y="324" width="1" height="21" fill="#000"/>
<rect x="128" y="319" width="1" height="1" fill="#999"/><rect x="224" y="319" width="1" height="1" fill="#999"/>
<path fill="#000" d="M27 396h1v1h-1zM27 400h1v1h-1zM27 401h1v1h-1zM27 402h1v1h-1zM27 403h1v1h-1zM27 407h1v1h-1zM27 408h1v1h-1zM27 409h1v1h-1zM27 410h1v1h-1zM27 414h1v1h-1zM27 415h1v1h-1zM27 416h1v1h-1zM27 417h1v1h-1zM27 421h1v1h-1zM27 422h1v1h-1zM27 423h1v1h-1zM27 424h1v1h-1zM27 428h1v1h-1zM27 429h1v1h-1zM27 430h1v1h-1zM27 431h1v1h-1zM27 435h1v1h-1zM27 436h1v1h-1zM27 437h1v1h-1zM27 438h1v1h-1zM27 442h1v1h-1zM27 443h1v1h-1zM27 444h1v1h-1zM27 445h1v1h-1zM27 449h1v1h-1zM27 450h1v1h-1zM27 451h1v1h-1zM27 452h1v1h-1zM27 456h1v1h-1zM27 457h1v1h-1zM27 458h1v1h-1zM27 459h1v1h-1zM27 463h1v1h-1zM27 464h1v1h-1zM27 465h1v1h-1zM27 466h1v1h-1zM27 470h1v1h-1zM27 471h1v1h-1zM27 472h1v1h-1zM27 473h1v1h-1zM27 477h1v1h-1zM27 478h1v1h-1zM27 479h1v1h-1zM27 480h1v1h-1zM27 484h1v1h-1zM27 485h1v1h-1zM27 486h1v1h-1zM27 487h1v1h-1zM27 491h1v1h-1zM27 492h1v1h-1zM27 493h1v1h-1zM27 494h1v1h-1zM27 498h1v1h-1zM27 499h1v1h-1zM27 500h1v1h-1zM27 501h1v1h-1zM27 505h1v1h-1zM27 506h1v1h-1zM27 507h1v1h-1zM27 508h1v1h-1zM27 512h1v1h-1zM27 513h1v1h-1zM27 514h1v1h-1zM27 515h1v1h-1zM27 519h1v1h-1zM27 520h1v1h-1zM27 521h1v1h-1zM27 522h1v1h-1zM27 526h1v1h-1zM27 527h1v1h-1zM27 528h1v1h-1zM27 529h1v1h-1zM27 533h1v1h-1zM27 534h1v1h-1zM27 535h1v1h-1zM27 536h1v1h-1zM27 540h1v1h-1zM27 541h1v1h-1zM27 542h1v1h-1zM27 543h1v1h-1zM27 547h1v1h-1zM27 548h1v1h-1zM27 549h1v1h-1zM27 550h1v1h-1zM27 554h1v1h-1zM27 555h1v1h-1zM27 556h1v1h-1zM27 557h1v1h-1zM27 561h1v1h-1zM27 562h1v1h-1zM27 563h1v1h-1zM27 564h1v1h-1zM27 568h1v1h-1zM27 569h1v1h-1zM27 570h1v1h-1zM27 571h1v1h-1zM28 396h1v1h-1zM29 396h1v1h-1zM29 573h1v1h-1zM30 573h1v1h-1zM31 573h1v1h-1zM32 573h1v1h-1zM33 396h1v1h-1zM34 396h1v1h-1zM35 396h1v1h-1zM36 396h1v1h-1zM36 573h1v1h-1zM37 573h1v1h-1zM38 573h1v1h-1zM39 573h1v1h-1zM40 396h1v1h-1zM41 396h1v1h-1zM42 396h1v1h-1zM43 396h1v1h-1zM43 573h1v1h-1zM44 573h1v1h-1zM45 573h1v1h-1zM46 573h1v1h-1zM47 396h1v1h-1zM48 396h1v1h-1zM49 396h1v1h-1zM50 396h1v1h-1zM50 573h1v1h-1zM51 573h1v1h-1zM52 573h1v1h-1zM53 573h1v1h-1zM54 396h1v1h-1zM55 396h1v1h-1zM56 396h1v1h-1zM57 396h1v1h-1zM57 573h1v1h-1zM58 573h1v1h-1zM59 573h1v1h-1zM60 573h1v1h-1zM61 396h1v1h-1zM62 396h1v1h-1zM63 396h1v1h-1zM64 396h1v1h-1zM64 573h1v1h-1zM65 573h1v1h-1zM66 573h1v1h-1zM67 573h1v1h-1zM68 396h1v1h-1zM69 396h1v1h-1zM70 396h1v1h-1zM71 396h1v1h-1zM71 573h1v1h-1zM72 573h1v1h-1zM73 573h1v1h-1zM74 573h1v1h-1zM75 396h1v1h-1zM76 396h1v1h-1zM77 396h1v1h-1zM78 396h1v1h-1zM78 573h1v1h-1zM79 573h1v1h-1zM80 573h1v1h-1zM81 573h1v1h-1zM82 396h1v1h-1zM83 396h1v1h-1zM84 396h1v1h-1zM85 396h1v1h-1zM85 573h1v1h-1zM86 573h1v1h-1zM87 573h1v1h-1zM88 573h1v1h-1zM89 396h1v1h-1zM90 396h1v1h-1zM91 396h1v1h-1zM92 396h1v1h-1zM92 573h1v1h-1zM93 573h1v1h-1zM94 573h1v1h-1zM95 573h1v1h-1zM96 396h1v1h-1zM97 396h1v1h-1zM98 396h1v1h-1zM99 396h1v1h-1zM99 573h1v1h-1zM100 573h1v1h-1zM101 573h1v1h-1zM102 573h1v1h-1zM103 396h1v1h-1zM104 396h1v1h-1zM105 396h1v1h-1zM106 396h1v1h-1zM106 573h1v1h-1zM107 573h1v1h-1zM108 573h1v1h-1zM109 573h1v1h-1zM110 396h1v1h-1zM111 396h1v1h-1zM112 396h1v1h-1zM113 396h1v1h-1zM113 573h1v1h-1zM114 573h1v1h-1zM115 573h1v1h-1zM116 573h1v1h-1zM117 396h1v1h-1zM118 396h1v1h-1zM119 396h1v1h-1zM120 396h1v1h-1zM120 573h1v1h-1zM121 573h1v1h-1zM122 573h1v1h-1zM123 573h1v1h-1zM124 396h1v1h-1zM125 396h1v1h-1zM126 396h1v1h-1zM127 396h1v1h-1zM127 573h1v1h-1zM128 573h1v1h-1zM129 573h1v1h-1zM130 573h1v1h-1zM131 396h1v1h-1zM132 396h1v1h-1zM133 396h1v1h-1zM134 396h1v1h-1zM134 573h1v1h-1zM135 573h1v1h-1zM136 573h1v1h-1zM137 573h1v1h-1zM138 396h1v1h-1zM139 396h1v1h-1zM140 396h1v1h-1zM141 396h1v1h-1zM141 573h1v1h-1zM142 573h1v1h-1zM143 573h1v1h-1zM144 573h1v1h-1zM145 396h1v1h-1zM146 396h1v1h-1zM147 396h1v1h-1zM148 396h1v1h-1zM148 573h1v1h-1zM149 573h1v1h-1zM150 573h1v1h-1zM151 573h1v1h-1zM152 396h1v1h-1zM153 396h1v1h-1zM154 396h1v1h-1zM155 396h1v1h-1zM155 573h1v1h-1zM156 573h1v1h-1zM157 573h1v1h-1zM158 573h1v1h-1zM159 396h1v1h-1zM160 396h1v1h-1zM161 396h1v1h-1zM162 396h1v1h-1zM162 573h1v1h-1zM163 573h1v1h-1zM164 573h1v1h-1zM165 573h1v1h-1zM166 396h1v1h-1zM167 396h1v1h-1zM168 396h1v1h-1zM169 396h1v1h-1zM169 573h1v1h-1zM170 573h1v1h-1zM171 573h1v1h-1zM172 573h1v1h-1zM173 396h1v1h-1zM174 396h1v1h-1zM175 396h1v1h-1zM176 396h1v1h-1zM176 573h1v1h-1zM177 573h1v1h-1zM178 573h1v1h-1zM179 573h1v1h-1zM180 396h1v1h-1zM181 396h1v1h-1zM182 396h1v1h-1zM183 396h1v1h-1zM183 573h1v1h-1zM184 573h1v1h-1zM185 573h1v1h-1zM186 573h1v1h-1zM187 396h1v1h-1zM188 396h1v1h-1zM189 396h1v1h-1zM190 396h1v1h-1zM190 573h1v1h-1zM191 573h1v1h-1zM192 573h1v1h-1zM193 573h1v1h-1zM194 396h1v1h-1zM195 396h1v1h-1zM196 396h1v1h-1zM197 396h1v1h-1zM197 573h1v1h-1zM198 573h1v1h-1zM199 573h1v1h-1zM200 573h1v1h-1zM201 396h1v1h-1zM202 396h1v1h-1zM203 396h1v1h-1zM204 396h1v1h-1zM204 573h1v1h-1zM205 573h1v1h-1zM206 573h1v1h-1zM207 573h1v1h-1zM208 396h1v1h-1zM209 396h1v1h-1zM210 396h1v1h-1zM211 396h1v1h-1zM211 573h1v1h-1zM212 573h1v1h-1zM213 573h1v1h-1zM214 573h1v1h-1zM215 396h1v1h-1zM216 396h1v1h-1zM217 396h1v1h-1zM218 396h1v1h-1zM218 573h1v1h-1zM219 573h1v1h-1zM220 573h1v1h-1zM221 573h1v1h-1zM222 396h1v1h-1zM223 396h1v1h-1zM224 396h1v1h-1zM225 396h1v1h-1zM225 573h1v1h-1zM226 573h1v1h-1zM227 573h1v1h-1zM228 573h1v1h-1zM229 396h1v1h-1zM230 396h1v1h-1zM231 396h1v1h-1zM232 396h1v1h-1zM232 573h1v1h-1zM233 573h1v1h-1zM234 573h1v1h-1zM235 573h1v1h-1zM236 396h1v1h-1zM237 396h1v1h-1zM238 396h1v1h-1zM239 396h1v1h-1zM239 573h1v1h-1zM240 573h1v1h-1zM241 573h1v1h-1zM242 573h1v1h-1zM243 396h1v1h-1zM244 396h1v1h-1zM245 396h1v1h-1zM246 396h1v1h-1zM246 573h1v1h-1zM247 573h1v1h-1zM248 573h1v1h-1zM249 573h1v1h-1zM250 396h1v1h-1zM251 396h1v1h-1zM252 396h1v1h-1zM253 396h1v1h-1zM253 573h1v1h-1zM254 573h1v1h-1zM255 573h1v1h-1zM256 573h1v1h-1zM257 396h1v1h-1zM258 396h1v1h-1zM259 396h1v1h-1zM260 396h1v1h-1zM260 573h1v1h-1zM261 573h1v1h-1zM262 573h1v1h-1zM263 573h1v1h-1zM264 396h1v1h-1zM265 396h1v1h-1zM266 396h1v1h-1zM267 396h1v1h-1zM267 573h1v1h-1zM268 573h1v1h-1zM269 573h1v1h-1zM270 573h1v1h-1zM271 396h1v1h-1zM272 396h1v1h-1zM273 396h1v1h-1zM274 396h1v1h-1zM274 573h1v1h-1zM275 573h1v1h-1zM276 573h1v1h-1zM277 573h1v1h-1zM278 396h1v1h-1zM279 396h1v1h-1zM280 396h1v1h-1zM281 396h1v1h-1zM281 573h1v1h-1zM282 573h1v1h-1zM283 573h1v1h-1zM284 573h1v1h-1zM285 396h1v1h-1zM286 396h1v1h-1zM287 396h1v1h-1zM288 396h1v1h-1zM288 573h1v1h-1zM289 573h1v1h-1zM290 573h1v1h-1zM291 573h1v1h-1zM292 396h1v1h-1zM293 396h1v1h-1zM294 396h1v1h-1zM295 396h1v1h-1zM295 573h1v1h-1zM296 573h1v1h-1zM297 573h1v1h-1zM298 573h1v1h-1zM299 396h1v1h-1zM300 396h1v1h-1zM301 396h1v1h-1zM302 396h1v1h-1zM302 573h1v1h-1zM303 396h1v1h-1zM303 397h1v1h-1zM303 398h1v1h-1zM303 402h1v1h-1zM303 403h1v1h-1zM303 404h1v1h-1zM303 405h1v1h-1zM303 409h1v1h-1zM303 410h1v1h-1zM303 411h1v1h-1zM303 412h1v1h-1zM303 416h1v1h-1zM303 417h1v1h-1zM303 418h1v1h-1zM303 419h1v1h-1zM303 423h1v1h-1zM303 424h1v1h-1zM303 425h1v1h-1zM303 426h1v1h-1zM303 430h1v1h-1zM303 431h1v1h-1zM303 432h1v1h-1zM303 433h1v1h-1zM303 437h1v1h-1zM303 438h1v1h-1zM303 439h1v1h-1zM303 440h1v1h-1zM303 444h1v1h-1zM303 445h1v1h-1zM303 446h1v1h-1zM303 447h1v1h-1zM303 451h1v1h-1zM303 452h1v1h-1zM303 453h1v1h-1zM303 454h1v1h-1zM303 458h1v1h-1zM303 459h1v1h-1zM303 460h1v1h-1zM303 461h1v1h-1zM303 465h1v1h-1zM303 466h1v1h-1zM303 467h1v1h-1zM303 468h1v1h-1zM303 472h1v1h-1zM303 473h1v1h-1zM303 474h1v1h-1zM303 475h1v1h-1zM303 479h1v1h-1zM303 480h1v1h-1zM303 481h1v1h-1zM303 482h1v1h-1zM303 486h1v1h-1zM303 487h1v1h-1zM303 488h1v1h-1zM303 489h1v1h-1zM303 493h1v1h-1zM303 494h1v1h-1zM303 495h1v1h-1zM303 496h1v1h-1zM303 500h1v1h-1zM303 501h1v1h-1zM303 502h1v1h-1zM303 503h1v1h-1zM303 507h1v1h-1zM303 508h1v1h-1zM303 509h1v1h-1zM303 510h1v1h-1zM303 514h1v1h-1zM303 515h1v1h-1zM303 516h1v1h-1zM303 517h1v1h-1zM303 521h1v1h-1zM303 522h1v1h-1zM303 523h1v1h-1zM303 524h1v1h-1zM303 528h1v1h-1zM303 529h1v1h-1zM303 530h1v1h-1zM303 531h1v1h-1zM303 535h1v1h-1zM303 536h1v1h-1zM303 537h1v1h-1zM303 538h1v1h-1zM303 542h1v1h-1zM303 543h1v1h-1zM303 544h1v1h-1zM303 545h1v1h-1zM303 549h1v1h-1zM303 550h1v1h-1zM303 551h1v1h-1zM303 552h1v1h-1zM303 556h1v1h-1zM303 557h1v1h-1zM303 558h1v1h-1zM303 559h1v1h-1zM303 563h1v1h-1zM303 564h1v1h-1zM303 565h1v1h-1zM303 566h1v1h-1zM303 570h1v1h-1zM303 571h1v1h-1zM303 572h1v1h-1zM303 573h1v1h-1z"/>
<use href="#g7b2c" x="49" y="423"/><use href="#g4e00" x="63" y="423"/><use href="#g7ebf" x="77" y="423"/>
<use href="#g8bdd" x="49" y="440"/><use href="#g52a1" x="63" y="440"/><use href="#g5458" x="77" y="440"/>
<use href="#ret" x="91" y="447"/>
<rect x="39" y="469" width="61" height="1" fill="#000"/>
<use href="#g7b2c" x="133" y="423"/><use href="#g4e8c" x="147" y="423"/><use href="#g7ebf" x="161" y="423"/>
<use href="#g8bdd" x="133" y="440"/><use href="#g52a1" x="147" y="440"/><use href="#g5458" x="161" y="440"/>
<use href="#ret" x="175" y="447"/>
<use href="#ret" x="133" y="462"/>
<rect x="123" y="469" width="61" height="1" fill="#000"/>
<use href="#g7279" x="217" y="423"/><use href="#g6b8a" x="234" y="423"/><use href="#g8bed" x="251" y="423"/><use href="#g79cd" x="268" y="423"/>
<use href="#g8bdd" x="217" y="440"/><use href="#g52a1" x="231" y="440"/><use href="#g5458" x="245" y="440"/>
<use href="#ret" x="259" y="447"/>
<rect x="207" y="469" width="73" height="1" fill="#000"/>
<path fill="#000" d="M99 501h1v1h-1zM99 502h1v1h-1zM99 503h1v1h-1zM99 504h1v1h-1zM99 508h1v1h-1zM99 509h1v1h-1zM99 510h1v1h-1zM99 511h1v1h-1zM99 515h1v1h-1zM99 516h1v1h-1zM99 517h1v1h-1zM99 518h1v1h-1zM99 522h1v1h-1zM99 523h1v1h-1zM99 524h1v1h-1zM99 525h1v1h-1zM99 529h1v1h-1zM99 530h1v1h-1zM99 531h1v1h-1zM99 532h1v1h-1zM99 536h1v1h-1zM99 537h1v1h-1zM99 538h1v1h-1zM99 539h1v1h-1zM99 543h1v1h-1zM99 544h1v1h-1zM99 545h1v1h-1zM99 546h1v1h-1zM99 550h1v1h-1zM99 551h1v1h-1zM99 552h1v1h-1zM100 552h1v1h-1zM101 500h1v1h-1zM102 500h1v1h-1zM103 500h1v1h-1zM104 500h1v1h-1zM104 552h1v1h-1zM105 552h1v1h-1zM106 552h1v1h-1zM107 552h1v1h-1zM108 500h1v1h-1zM109 500h1v1h-1zM110 500h1v1h-1zM111 500h1v1h-1zM111 552h1v1h-1zM112 552h1v1h-1zM113 552h1v1h-1zM114 552h1v1h-1zM115 500h1v1h-1zM116 500h1v1h-1zM117 500h1v1h-1zM118 500h1v1h-1zM118 552h1v1h-1zM119 552h1v1h-1zM120 552h1v1h-1zM121 552h1v1h-1zM122 500h1v1h-1zM123 500h1v1h-1zM124 500h1v1h-1zM125 500h1v1h-1zM125 552h1v1h-1zM126 552h1v1h-1zM127 552h1v1h-1zM128 552h1v1h-1zM129 500h1v1h-1zM130 500h1v1h-1zM131 500h1v1h-1zM132 500h1v1h-1zM132 552h1v1h-1zM133 552h1v1h-1zM134 552h1v1h-1zM135 552h1v1h-1zM136 500h1v1h-1zM137 500h1v1h-1zM138 500h1v1h-1zM139 500h1v1h-1zM139 552h1v1h-1zM140 552h1v1h-1zM141 552h1v1h-1zM142 552h1v1h-1zM143 500h1v1h-1zM144 500h1v1h-1zM145 500h1v1h-1zM146 500h1v1h-1zM146 552h1v1h-1zM147 552h1v1h-1zM148 552h1v1h-1zM149 552h1v1h-1zM150 500h1v1h-1zM151 500h1v1h-1zM152 500h1v1h-1zM153 500h1v1h-1zM153 552h1v1h-1zM154 552h1v1h-1zM155 552h1v1h-1zM156 552h1v1h-1zM157 500h1v1h-1zM158 500h1v1h-1zM159 500h1v1h-1zM160 500h1v1h-1zM160 552h1v1h-1zM161 552h1v1h-1zM162 552h1v1h-1zM163 552h1v1h-1zM164 500h1v1h-1zM165 500h1v1h-1zM166 500h1v1h-1zM167 500h1v1h-1zM167 552h1v1h-1zM168 552h1v1h-1zM169 552h1v1h-1zM170 552h1v1h-1zM171 500h1v1h-1zM172 500h1v1h-1zM173 500h1v1h-1zM174 500h1v1h-1zM174 552h1v1h-1zM175 552h1v1h-1zM176 552h1v1h-1zM177 552h1v1h-1zM178 500h1v1h-1zM179 500h1v1h-1zM180 500h1v1h-1zM181 500h1v1h-1zM181 552h1v1h-1zM182 552h1v1h-1zM183 552h1v1h-1zM184 552h1v1h-1zM185 500h1v1h-1zM186 500h1v1h-1zM187 500h1v1h-1zM188 500h1v1h-1zM188 552h1v1h-1zM189 552h1v1h-1zM190 552h1v1h-1zM191 552h1v1h-1zM192 500h1v1h-1zM193 500h1v1h-1zM194 500h1v1h-1zM195 500h1v1h-1zM195 552h1v1h-1zM196 552h1v1h-1zM197 552h1v1h-1zM198 552h1v1h-1zM199 500h1v1h-1zM200 500h1v1h-1zM201 500h1v1h-1zM202 500h1v1h-1zM202 552h1v1h-1zM203 552h1v1h-1zM204 552h1v1h-1zM205 552h1v1h-1zM206 500h1v1h-1zM207 500h1v1h-1zM208 500h1v1h-1zM209 500h1v1h-1zM209 552h1v1h-1zM210 552h1v1h-1zM211 552h1v1h-1zM212 552h1v1h-1zM213 500h1v1h-1zM214 500h1v1h-1zM215 500h1v1h-1zM216 500h1v1h-1zM216 552h1v1h-1zM217 552h1v1h-1zM218 552h1v1h-1zM219 552h1v1h-1zM220 500h1v1h-1zM221 500h1v1h-1zM222 500h1v1h-1zM223 500h1v1h-1zM223 552h1v1h-1zM224 552h1v1h-1zM225 552h1v1h-1zM226 552h1v1h-1zM227 500h1v1h-1zM228 500h1v1h-1zM229 500h1v1h-1zM230 500h1v1h-1zM230 552h1v1h-1zM231 500h1v1h-1zM231 501h1v1h-1zM231 502h1v1h-1zM231 503h1v1h-1zM231 507h1v1h-1zM231 508h1v1h-1zM231 509h1v1h-1zM231 510h1v1h-1zM231 514h1v1h-1zM231 515h1v1h-1zM231 516h1v1h-1zM231 517h1v1h-1zM231 521h1v1h-1zM231 522h1v1h-1zM231 523h1v1h-1zM231 524h1v1h-1zM231 528h1v1h-1zM231 529h1v1h-1zM231 530h1v1h-1zM231 531h1v1h-1zM231 535h1v1h-1zM231 536h1v1h-1zM231 537h1v1h-1zM231 538h1v1h-1zM231 542h1v1h-1zM231 543h1v1h-1zM231 544h1v1h-1zM231 545h1v1h-1zM231 549h1v1h-1zM231 550h1v1h-1zM231 551h1v1h-1zM231 552h1v1h-1z"/>
<use href="#g90e8" x="133" y="505"/><use href="#g95e8" x="147" y="505"/><use href="#g534f" x="161" y="505"/><use href="#g8c03" x="175" y="505"/><use href="#g5458" x="189" y="505"/>
<use href="#ret" x="203" y="511"/>
<use href="#g547c" x="108" y="580"/><use href="#g53eb" x="122" y="580"/><use href="#g4e2d" x="136" y="580"/><use href="#g5fc3" x="150" y="580"/><use href="#g8bdd" x="164" y="580"/><use href="#g52a1" x="178" y="580"/><use href="#g5458" x="192" y="580"/>
<use href="#ret" x="207" y="586"/>
<rect x="183" y="615" width="121" height="53" fill="#000"/>
<rect x="184" y="616" width="119" height="51" fill="#CCFFFF"/>
<use href="#g6280" x="194" y="622"/><use href="#g672f" x="208" y="622"/><use href="#g652f" x="222" y="622"/><use href="#g6491" x="236" y="622"/><use href="#g4eba" x="250" y="622"/><use href="#g5458" x="264" y="622"/>
<use href="#ret" x="278" y="628"/>
<rect x="303" y="636" width="37" height="1" fill="#000"/>
<rect x="403" y="141" width="105" height="53" fill="#000"/>
<rect x="404" y="142" width="103" height="51" fill="#CCFFFF"/>
<rect x="395" y="152" width="105" height="53" fill="#000"/>
<rect x="396" y="153" width="103" height="51" fill="#CCFFFF"/>
<rect x="387" y="162" width="105" height="53" fill="#000"/>
<rect x="388" y="163" width="103" height="51" fill="#CCFFFF"/>
<rect x="339" y="183" width="49" height="1" fill="#000"/>
<rect x="507" y="173" width="24" height="1" fill="#000"/>
<use href="#g57f9" x="398" y="169"/><use href="#g8bad" x="413" y="169"/><use href="#g2f" x="429" y="169"/><use href="#g8d28" x="436" y="169"/><use href="#g91cf" x="452" y="169"/><use href="#g4fdd" x="468" y="169"/>
<use href="#g8bc1" x="398" y="186"/><use href="#g7ecf" x="412" y="186"/><use href="#g7406" x="426" y="186"/>
<use href="#ret" x="440" y="192"/>
<use href="#g57f9" x="529" y="127"/><use href="#g8bad" x="543" y="127"/><use href="#g8bb2" x="557" y="127"/><use href="#g5e08" x="571" y="127"/>
<use href="#g57f9" x="529" y="145"/><use href="#g8bad" x="543" y="145"/><use href="#g4e13" x="557" y="145"/><use href="#g5458" x="571" y="145"/>
<use href="#g8d28" x="529" y="163"/><use href="#g91cf" x="543" y="163"/><use href="#g76d1" x="557" y="163"/><use href="#g63a7" x="571" y="163"/><use href="#g4eba" x="585" y="163"/><use href="#g5458" x="599" y="163"/>
<use href="#g8bdd" x="529" y="181"/><use href="#g672f" x="544" y="181"/><use href="#g2f" x="558" y="181"/><use href="#g49" x="566" y="181"/><use href="#g56" x="571" y="181"/><use href="#g52" x="578" y="181"/><use href="#g811a" x="591" y="181"/><use href="#g672c" x="605" y="181"/>
<use href="#g4e66" x="529" y="199"/><use href="#g5199" x="543" y="199"/><use href="#g5458" x="557" y="199"/>
<use href="#ret" x="585" y="132"/>
<use href="#ret" x="585" y="150"/>
<path transform="translate(613 168)" fill="#76767e" d="M2 2h1v1h-1zM1 3h2v1h-2zM0 4h5v1h-5zM1 5h2v1h-2zM2 6h1v1h-1z"/>
<use href="#ret" x="571" y="204"/>
<rect x="403" y="266" width="105" height="48" fill="#000"/>
<rect x="404" y="267" width="103" height="46" fill="#CCFFFF"/>
<rect x="395" y="277" width="105" height="48" fill="#000"/>
<rect x="396" y="278" width="103" height="46" fill="#CCFFFF"/>
<rect x="387" y="282" width="105" height="53" fill="#000"/>
<rect x="388" y="283" width="103" height="51" fill="#CCFFFF"/>
<rect x="339" y="303" width="49" height="1" fill="#000"/>
<rect x="507" y="303" width="24" height="1" fill="#000"/>
<use href="#g4eba" x="398" y="289"/><use href="#g4e8b" x="412" y="289"/><use href="#g7ecf" x="426" y="289"/><use href="#g7406" x="440" y="289"/>
<use href="#ret" x="454" y="294"/>
<g clip-path="url(#clipHR)"><use href="#g62db" x="529" y="266"/><use href="#g8058" x="544" y="266"/><use href="#g8d1f" x="557" y="266"/><use href="#g8d23" x="572" y="266"/><use href="#g4eba" x="588" y="266"/></g>
<g clip-path="url(#clipHR2)"><use href="#ret" x="599" y="277"/></g>
<use href="#g9762" x="529" y="285"/><use href="#g8bd5" x="543" y="285"/><use href="#g5458" x="557" y="285"/>
<use href="#ret" x="571" y="291"/>
<use href="#g4eba" x="529" y="302"/><use href="#g9645" x="543" y="302"/><use href="#g5173" x="557" y="302"/><use href="#g7cfb" x="571" y="302"/><use href="#g8d44" x="585" y="302"/><use href="#g6e90" x="599" y="302"/>
<use href="#ret" x="613" y="308"/>
<rect x="403" y="376" width="105" height="53" fill="#000"/>
<rect x="404" y="377" width="103" height="51" fill="#CCFFFF"/>
<rect x="395" y="386" width="105" height="53" fill="#000"/>
<rect x="396" y="387" width="103" height="51" fill="#CCFFFF"/>
<rect x="387" y="397" width="105" height="53" fill="#000"/>
<rect x="388" y="398" width="103" height="51" fill="#CCFFFF"/>
<rect x="339" y="417" width="49" height="1" fill="#000"/>
<rect x="507" y="417" width="24" height="1" fill="#000"/>
<use href="#g9884" x="398" y="405"/><use href="#g6d4b" x="414" y="405"/><use href="#g2f" x="429" y="405"/><use href="#g6392" x="436" y="405"/><use href="#g73ed" x="451" y="405"/><use href="#g7ecf" x="467" y="405"/>
<use href="#g7406" x="398" y="422"/>
<use href="#ret" x="412" y="427"/>
<use href="#g4eba" x="529" y="391"/><use href="#g5458" x="543" y="391"/><use href="#g6392" x="557" y="391"/><use href="#g73ed" x="571" y="391"/><use href="#g4e3b" x="585" y="391"/><use href="#g7ba1" x="599" y="391"/>
<use href="#g8bdd" x="529" y="410"/><use href="#g52a1" x="543" y="410"/><use href="#g91cf" x="557" y="410"/><use href="#g9884" x="571" y="410"/><use href="#g6d4b" x="585" y="410"/><use href="#g5458" x="599" y="410"/>
<path transform="translate(613 397)" fill="#76767e" d="M2 2h1v1h-1zM1 3h2v1h-2zM0 4h5v1h-5zM1 5h2v1h-2zM2 6h1v1h-1z"/>
<path transform="translate(613 415)" fill="#76767e" d="M2 2h1v1h-1zM1 3h2v1h-2zM0 4h5v1h-5zM1 5h2v1h-2zM2 6h1v1h-1z"/>
<rect x="403" y="500" width="105" height="53" fill="#000"/>
<rect x="404" y="501" width="103" height="51" fill="#CCFFFF"/>
<rect x="395" y="511" width="105" height="53" fill="#000"/>
<rect x="396" y="512" width="103" height="51" fill="#CCFFFF"/>
<rect x="387" y="521" width="105" height="53" fill="#000"/>
<rect x="388" y="522" width="103" height="51" fill="#CCFFFF"/>
<rect x="339" y="542" width="49" height="1" fill="#000"/>
<rect x="507" y="532" width="24" height="1" fill="#000"/>
<use href="#g4fe1" x="398" y="529"/><use href="#g606f" x="416" y="529"/><use href="#g6280" x="433" y="529"/><use href="#g672f" x="450" y="529"/><use href="#g7ecf" x="467" y="529"/>
<use href="#g7406" x="398" y="546"/>
<use href="#ret" x="412" y="551"/>
<use href="#g7cfb" x="530" y="505"/><use href="#g7edf" x="544" y="505"/><use href="#g7ef4" x="558" y="505"/><use href="#g62a4" x="572" y="505"/><use href="#g5458" x="586" y="505"/>
<use href="#g7cfb" x="530" y="524"/><use href="#g7edf" x="544" y="524"/><use href="#g6280" x="558" y="524"/><use href="#g672f" x="572" y="524"/><use href="#g5458" x="586" y="524"/>
<use href="#g7a0b" x="530" y="543"/><use href="#g5e8f" x="544" y="543"/><use href="#g5f00" x="558" y="543"/><use href="#g53d1" x="572" y="543"/><use href="#g5458" x="586" y="543"/>
<use href="#ret" x="599" y="512"/>
<use href="#ret" x="599" y="530"/>
<use href="#ret" x="599" y="548"/>
<rect x="393" y="625" width="115" height="53" fill="#000"/>
<rect x="394" y="626" width="113" height="51" fill="#CCFFFF"/>
<rect x="384" y="636" width="115" height="53" fill="#000"/>
<rect x="385" y="637" width="113" height="51" fill="#CCFFFF"/>
<rect x="375" y="646" width="116" height="53" fill="#000"/>
<rect x="376" y="647" width="114" height="51" fill="#CCFFFF"/>
<rect x="339" y="677" width="37" height="1" fill="#000"/>
<rect x="507" y="656" width="14" height="1" fill="#000"/>
<use href="#g901a" x="386" y="654"/><use href="#g4fe1" x="400" y="654"/><use href="#g7ecf" x="414" y="654"/><use href="#g7406" x="428" y="654"/>
<use href="#ret" x="442" y="658"/>
<use href="#g7cfb" x="530" y="630"/><use href="#g7edf" x="544" y="630"/><use href="#g7ef4" x="558" y="630"/><use href="#g4fee" x="572" y="630"/><use href="#g5458" x="586" y="630"/>
<use href="#g901a" x="530" y="649"/><use href="#g4fe1" x="544" y="649"/><use href="#g6280" x="558" y="649"/><use href="#g672f" x="572" y="649"/><use href="#g5458" x="586" y="649"/>
<use href="#g49" x="531" y="667"/><use href="#g56" x="537" y="667"/><use href="#g52" x="545" y="667"/><use href="#g2f" x="552" y="667"/><use href="#g41" x="558" y="667"/><use href="#g43" x="565" y="667"/><use href="#g44" x="572" y="667"/><use href="#g6280" x="587" y="667"/><use href="#g672f" x="604" y="667"/>
<use href="#g652f" x="530" y="685"/><use href="#g6301" x="544" y="685"/><use href="#g548c" x="558" y="685"/><use href="#g7a0b" x="572" y="685"/><use href="#g5e8f" x="586" y="685"/><use href="#g5458" x="600" y="685"/>
<use href="#ret" x="599" y="636"/>
<use href="#ret" x="599" y="654"/>
<path transform="translate(613 691)" fill="#76767e" d="M2 2h1v1h-1zM1 3h2v1h-2zM0 4h5v1h-5zM1 5h2v1h-2zM2 6h1v1h-1z"/></svg>
</body></html>
